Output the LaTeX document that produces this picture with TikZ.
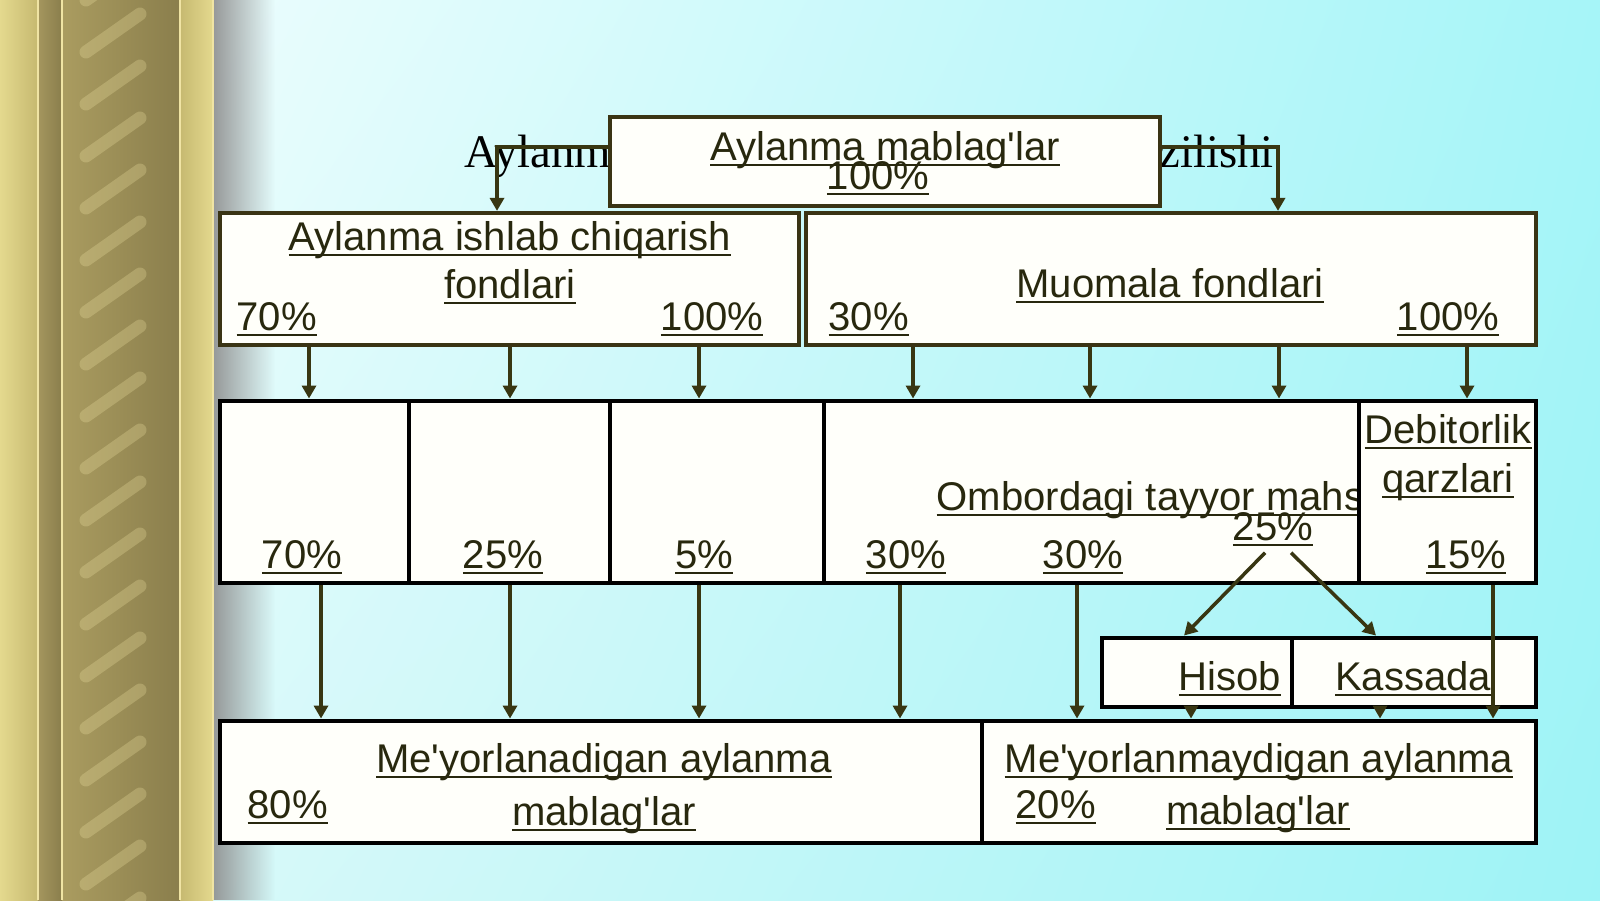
\documentclass[tikz,border=0pt]{standalone}
\usepackage{fontspec}
\setmainfont{Liberation Sans}[Ligatures=TeXOff]
\newfontfamily\titlefont{Liberation Serif}[Ligatures=TeXOff]
\usetikzlibrary{arrows.meta,shadings,fadings}

\definecolor{txtcol}{RGB}{40,40,14}
\definecolor{linecol}{RGB}{56,54,18}
\definecolor{boxline}{RGB}{58,52,20}
\definecolor{boxfill}{RGB}{255,255,250}
\definecolor{bgA}{HTML}{ECFDFD}
\definecolor{bgB}{HTML}{A6F5F8}
\definecolor{bgC}{HTML}{D8F9F9}
\definecolor{bgD}{HTML}{9EF3F6}
\definecolor{goldA}{HTML}{E4D98E}
\definecolor{goldB}{HTML}{C6B970}
\definecolor{goldC}{HTML}{A4965E}
\definecolor{goldD}{HTML}{8A7E4C}
\definecolor{goldE}{HTML}{AA9C60}
\definecolor{goldF}{HTML}{D8CA80}
\definecolor{goldH}{HTML}{F0E4A4}

\tikzfading[name=shadowfade, left color=transparent!0, right color=transparent!100]

\newcommand{\undl}[1]{\underline{\smash{#1}}}

\begin{document}
\begin{tikzpicture}[
    box/.style={rectangle, draw=boxline, line width=1.2pt, fill=boxfill, inner sep=0pt},
    cell/.style={box, draw=black, line width=1.4pt},
    lbl/.style={inner sep=0pt, anchor=base, text=txtcol, font={\fontsize{11.4pt}{14pt}\selectfont}},
    arr/.style={-{Triangle[length=1.3mm, width=1.4mm]}, draw=linecol, line width=1pt}
  ]
  \useasboundingbox (0,0) rectangle (16,-9);

  % Background and left column
  \shade[upper left=bgA, upper right=bgB, lower left=bgC, lower right=bgD] (1.9,0) rectangle (16,-9);
  \fill[black!45, path fading=shadowfade] (2.05,0) rectangle (2.75,-9);
  \shade[left color=goldA, right color=goldB] (0,0) rectangle (0.38,-9);
  \shade[left color=goldC, right color=goldD] (0.38,0) rectangle (0.62,-9);
  \shade[left color=goldE, middle color=goldF, right color=goldD] (0.62,0) rectangle (1.80,-9);
  \begin{scope}
    \clip (0.62,0) rectangle (1.80,-9);
    \foreach \y in {0,0.52,...,9.6}
      \draw[goldH, opacity=0.28, line width=1.3mm, line cap=round] (0.86,-\y) -- (1.40,-\y+0.38);
  \end{scope}
  \shade[left color=goldB, right color=goldA] (1.80,0) rectangle (2.13,-9);
  \foreach \x in {0.38, 0.62, 1.80, 2.13}
    \draw[goldH, line width=0.5pt] (\x,0) -- (\x,-9);

  % Title behind the top box
  \node[anchor=base west, inner sep=0pt, font={\titlefont\fontsize{13.3pt}{16pt}\selectfont}] (title) at (4.64,-1.67) {Aylanma mablag'larning tarkibi va tuzilishi};

  % Boxes
  \node[box, minimum width=5.50cm, minimum height=0.89cm] (top) at (8.85,-1.615) {};
  \node[box, minimum width=5.79cm, minimum height=1.32cm] (prod) at (5.095,-2.79) {};
  \node[box, minimum width=7.30cm, minimum height=1.32cm] (muom) at (11.71,-2.79) {};
  \node[cell, minimum width=1.89cm, minimum height=1.82cm] (c1) at (3.145,-4.92) {};
  \node[cell, minimum width=2.01cm, minimum height=1.82cm] (c2) at (5.095,-4.92) {};
  \node[cell, minimum width=2.14cm, minimum height=1.82cm] (c3) at (7.17,-4.92) {};
  \node[cell, minimum width=5.35cm, minimum height=1.82cm] (c4) at (10.915,-4.92) {};
  \node[lbl, anchor=base west] (omb) at (9.36,-5.10) {\undl{Ombordagi tayyor mahsulotlar}};
  \node[cell, minimum width=1.77cm, minimum height=1.82cm] (c5) at (14.475,-4.92) {};
  \node[cell, minimum width=1.90cm, minimum height=0.69cm] (hisob) at (11.97,-6.725) {};
  \node[cell, minimum width=2.44cm, minimum height=0.69cm] (kassa) at (14.14,-6.725) {};
  \node[cell, minimum width=7.62cm, minimum height=1.22cm] (lowl) at (6.01,-7.82) {};
  \node[cell, minimum width=5.54cm, minimum height=1.22cm] (lowr) at (12.59,-7.82) {};

  % Labels
  \node[lbl] (topa) at (8.85,-1.60) {\undl{Aylanma mablag'lar}};
  \node[lbl] (topb) at (8.78,-1.89) {\undl{100\%}};
  \node[lbl] (proda) at (5.10,-2.50) {\undl{Aylanma ishlab chiqarish}};
  \node[lbl] (prodb) at (5.10,-2.98) {\undl{fondlari}};
  \node[lbl, anchor=base west] (prodl) at (2.36,-3.30) {\undl{70\%}};
  \node[lbl, anchor=base east] (prodr) at (7.64,-3.30) {\undl{100\%}};
  \node[lbl] (muoma) at (11.70,-2.97) {\undl{Muomala fondlari}};
  \node[lbl, anchor=base west] (muoml) at (8.28,-3.30) {\undl{30\%}};
  \node[lbl, anchor=base east] (muomr) at (15.00,-3.30) {\undl{100\%}};
  \node[lbl] (p1) at (3.02,-5.68) {\undl{70\%}};
  \node[lbl] (p2) at (5.03,-5.68) {\undl{25\%}};
  \node[lbl] (p3) at (7.04,-5.68) {\undl{5\%}};
  \node[lbl] (p4) at (9.06,-5.68) {\undl{30\%}};
  \node[lbl] (p5) at (10.83,-5.68) {\undl{30\%}};
  \node[lbl] (p25) at (12.73,-5.40) {\undl{25\%}};
  \node[lbl] (deba) at (14.48,-4.43) {\undl{Debitorlik}};
  \node[lbl] (debb) at (14.48,-4.92) {\undl{qarzlari}};
  \node[lbl] (p15) at (14.66,-5.68) {\undl{15\%}};
  \node[lbl] (hisobt) at (12.30,-6.90) {\undl{Hisob}};
  \node[lbl] (kassat) at (14.13,-6.90) {\undl{Kassada}};
  \node[lbl] (lowla) at (6.04,-7.72) {\undl{Me'yorlanadigan aylanma}};
  \node[lbl] (lowlb) at (6.04,-8.25) {\undl{mablag'lar}};
  \node[lbl, anchor=base west] (lowlp) at (2.47,-8.18) {\undl{80\%}};
  \node[lbl] (lowra) at (12.59,-7.72) {\undl{Me'yorlanmaydigan aylanma}};
  \node[lbl] (lowrb) at (12.58,-8.24) {\undl{mablag'lar}};
  \node[lbl, anchor=base west] (lowrp) at (10.15,-8.18) {\undl{20\%}};

  % Connectors
  \draw[arr] ([yshift=1.45mm]top.west) -| ([xshift=-1.25mm]prod.north);
  \draw[arr] ([yshift=1.45mm]top.east) -| ([xshift=10.7mm]muom.north);
  \foreach \x/\a/\b in {3.09/prod/c1, 5.10/prod/c2, 6.99/prod/c3, 9.13/muom/c4, 10.90/muom/c4, 12.79/muom/c4, 14.67/muom/c5}
    \draw[arr] (\x,0 |- \a.south) -- (\x,0 |- \b.north);
  \foreach \x/\a/\b in {3.21/c1/lowl, 5.10/c2/lowl, 6.99/c3/lowl, 9.00/c4/lowl, 10.77/c4/lowr, 11.91/hisob/lowr, 13.80/kassa/lowr, 14.93/c5/lowr}
    \draw[arr] (\x,0 |- \a.south) -- (\x,0 |- \b.north);
  \draw[arr] ([xshift=-0.8mm,yshift=-0.5mm]p25.south) -- ([xshift=-1.3mm]hisob.north);
  \draw[arr] ([xshift=1.8mm,yshift=-0.5mm]p25.south) -- ([xshift=-3.8mm]kassa.north);
\end{tikzpicture}
\end{document}
